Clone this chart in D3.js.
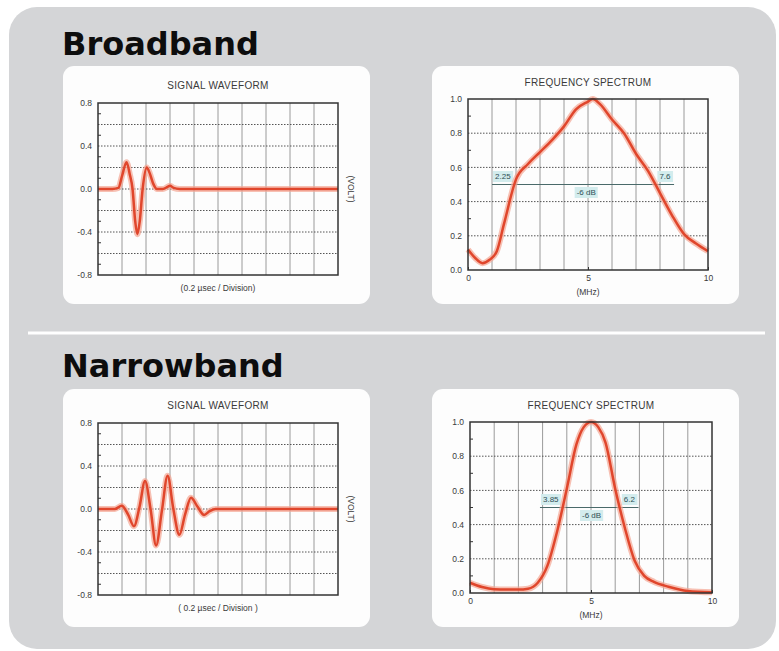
<!DOCTYPE html>
<html>
<head>
<meta charset="utf-8">
<script src="https://cdn.jsdelivr.net/npm/d3@7"></script>
<style>
  html, body { margin: 0; padding: 0; background: #ffffff; }
  svg { display: block; }
  text { font-family: "Liberation Sans", Arial, sans-serif; }
</style>
</head>
<body>
<svg id="chart" width="779" height="651"></svg>
<script>
// ---------------- DATA ----------------
const sectionTitles = ["Broadband", "Narrowband"];
const waveTitle = "SIGNAL WAVEFORM";
const specTitle = "FREQUENCY SPECTRUM";
const waveXLabels = ["(0.2 µsec / Division)", "( 0.2 µsec / Division )"];
const waveYLabel = "(VOLT)";
const specXLabel = "(MHz)";

// waveform time axis in divisions (0.2 µs each)
const bbWaveT = [0, 0.6, 0.85, 1.0, 1.19, 1.32, 1.44, 1.55, 1.64, 1.74, 1.86, 2.03, 2.15, 2.3, 2.45, 2.7, 2.9, 3.0, 3.15, 3.4, 10];
const bbWaveV = [0, 0, 0.01, 0.12, 0.25, 0.14, 0, -0.3, -0.42, -0.3, 0, 0.2, 0.15, 0.05, 0, 0, 0.02, 0.03, 0.01, 0, 0];

const nbWaveT = [0, 0.7, 0.99, 1.25, 1.5, 1.73, 1.96, 2.19, 2.42, 2.66, 2.9, 3.14, 3.39, 3.63, 3.875, 4.15, 4.42, 4.65, 4.9, 10];
const nbWaveV = [0, 0, 0.03, -0.05, -0.16, 0.02, 0.26, 0.0, -0.34, -0.02, 0.31, 0.0, -0.24, -0.05, 0.105, 0.02, -0.055, -0.02, 0, 0];

// spectra: frequency (MHz) and normalized amplitude
const bbSpecF = [0, 0.3, 0.6, 0.9, 1.2, 1.5, 2.0, 2.5, 3.0, 3.5, 4.0, 4.5, 5.0, 5.2, 5.5, 6.0, 6.5, 7.0, 7.5, 8.0, 8.5, 9.0, 9.5, 10];
const bbSpecA = [0.12, 0.07, 0.04, 0.06, 0.11, 0.27, 0.53, 0.62, 0.69, 0.76, 0.84, 0.94, 0.985, 1.0, 0.97, 0.88, 0.80, 0.68, 0.58, 0.45, 0.32, 0.21, 0.155, 0.11];

const nbSpecF = [0, 0.5, 1.0, 1.5, 2.0, 2.4, 2.8, 3.2, 3.6, 4.0, 4.4, 4.7, 5.0, 5.3, 5.6, 6.0, 6.4, 6.8, 7.2, 7.6, 8.2, 9.0, 10];
const nbSpecA = [0.06, 0.035, 0.022, 0.02, 0.02, 0.025, 0.06, 0.16, 0.36, 0.61, 0.87, 0.97, 1.0, 0.97, 0.88, 0.61, 0.38, 0.19, 0.1, 0.065, 0.037, 0.012, 0.004];

// -6 dB markers
const bbMarkers = [2.25, 7.6];
const nbMarkers = [3.85, 6.2];
const dbLabel = "-6 dB";
const dbLevel = 0.5;

// tick labels
const waveYTicks = [0.8, 0.4, 0.0, -0.4, -0.8];
const specYTicks = [0.0, 0.2, 0.4, 0.6, 0.8, 1.0];
const specXTicks = [0, 5, 10];

// ---------------- DRAWING ----------------
const svg = d3.select("#chart");

// outer grey panel
svg.append("rect").attr("x", 9).attr("y", 7).attr("width", 767).attr("height", 642)
  .attr("rx", 28).attr("fill", "#d4d5d7");

// separator
svg.append("line").attr("x1", 28).attr("x2", 765).attr("y1", 333).attr("y2", 333)
  .attr("stroke", "#ffffff").attr("stroke-width", 3);

// section titles
[[62, 55], [62, 377]].forEach((p, i) => {
  svg.append("text").attr("x", p[0]).attr("y", p[1])
    .style("font-family", "'DejaVu Sans', Verdana, sans-serif")
    .attr("font-weight", "bold").attr("font-size", 32).attr("fill", "#0d0d0d")
    .text(sectionTitles[i]);
});

const fmt1 = v => (v < 0 ? "-" : "") + Math.abs(v).toFixed(1);
const gridV = "#9a9a9a", gridH = "#555555", frameC = "#333333", textC = "#3a3a3a";

function panel(x, y, w, h) {
  svg.append("rect").attr("x", x).attr("y", y).attr("width", w).attr("height", h)
    .attr("rx", 11).attr("fill", "#fdfdfd");
}

function curve(g, xs, ys, xS, yS) {
  const pts = xs.map((d, i) => [d, ys[i]]);
  const line = d3.line().x(d => xS(d[0])).y(d => yS(d[1])).curve(d3.curveMonotoneX);
  g.append("path").attr("d", line(pts)).attr("fill", "none")
    .attr("stroke", "#f4a593").attr("stroke-width", 6).attr("stroke-opacity", 0.7)
    .attr("stroke-linejoin", "round");
  g.append("path").attr("d", line(pts)).attr("fill", "none")
    .attr("stroke", "#e0462c").attr("stroke-width", 2.5).attr("stroke-linejoin", "round");
}

function frameAndGrid(g, xS, yS, xGrid, yGrid, yMinor) {
  const [x0, x1] = xS.range(), [y0, y1] = yS.range();
  g.selectAll(".vg").data(xGrid).join("line")
    .attr("x1", d => xS(d)).attr("x2", d => xS(d)).attr("y1", y1).attr("y2", y0)
    .attr("stroke", gridV).attr("stroke-width", 1);
  g.selectAll(".hg").data(yGrid).join("line")
    .attr("x1", x0).attr("x2", x1).attr("y1", d => yS(d)).attr("y2", d => yS(d))
    .attr("stroke", gridH).attr("stroke-width", 1).attr("stroke-dasharray", "1.5,1.5");
  g.selectAll(".mt").data(yMinor).join("line")
    .attr("x1", x0).attr("x2", x0 + 3).attr("y1", d => yS(d)).attr("y2", d => yS(d))
    .attr("stroke", frameC).attr("stroke-width", 1);
}

function frame(g, xS, yS) {
  const [x0, x1] = xS.range(), [y0, y1] = yS.range();
  g.append("rect").attr("x", x0).attr("y", y1).attr("width", x1 - x0).attr("height", y0 - y1)
    .attr("fill", "none").attr("stroke", frameC).attr("stroke-width", 1.5);
}

function styleTicks(sel) {
  sel.select(".domain").remove();
  sel.selectAll("text").attr("font-size", 8.5).attr("fill", textC)
    .style("font-family", "'Liberation Sans', Arial, sans-serif");
}

function drawWave(box, plot, ts, vs, xLabel) {
  panel(box.x, box.y, box.w, box.h);
  const g = svg.append("g");
  const xS = d3.scaleLinear().domain([0, 10]).range([plot.x0, plot.x1]);
  const yS = d3.scaleLinear().domain([-0.8, 0.8]).range([plot.y1, plot.y0]);
  frameAndGrid(g, xS, yS, d3.range(1, 10), d3.range(-6, 7, 2).map(d => d / 10),
    d3.range(-7, 8, 2).map(d => d / 10));
  curve(g, ts, vs, xS, yS);
  frame(g, xS, yS);
  const ax = d3.axisLeft(yS).tickValues(waveYTicks).tickSize(0).tickPadding(6).tickFormat(fmt1);
  styleTicks(g.append("g").attr("transform", `translate(${plot.x0},0)`).call(ax));
  const cx = (plot.x0 + plot.x1) / 2;
  g.append("text").attr("x", cx).attr("y", plot.y0 - 14).attr("text-anchor", "middle")
    .attr("font-size", 10).attr("fill", textC).attr("letter-spacing", 0.3).text(waveTitle);
  g.append("text").attr("x", cx).attr("y", plot.y1 + 16).attr("text-anchor", "middle")
    .attr("font-size", 8.5).attr("fill", textC).text(xLabel);
  const ym = yS(0);
  g.append("text").attr("transform", `translate(${plot.x1 + 10},${ym}) rotate(90)`)
    .attr("text-anchor", "middle").attr("font-size", 8.5).attr("fill", textC).text(waveYLabel);
}

function crossing(fs, as, level, fromLeft) {
  const n = fs.length;
  if (fromLeft) {
    for (let i = 0; i < n - 1; i++) {
      if (as[i] < level && as[i + 1] >= level)
        return fs[i] + (level - as[i]) / (as[i + 1] - as[i]) * (fs[i + 1] - fs[i]);
    }
  } else {
    for (let i = n - 1; i > 0; i--) {
      if (as[i] < level && as[i - 1] >= level)
        return fs[i] - (level - as[i]) / (as[i - 1] - as[i]) * (fs[i] - fs[i - 1]);
    }
  }
  return null;
}

function tag(g, x, y, txt, anchor) {
  const t = g.append("text").attr("x", x).attr("y", y).attr("text-anchor", anchor)
    .attr("dominant-baseline", "central").attr("font-size", 8).attr("fill", "#2f4f55").text(txt);
  const bb = t.node().getBBox();
  g.insert("rect", () => t.node()).attr("x", bb.x - 2).attr("y", bb.y - 1)
    .attr("width", bb.width + 4).attr("height", bb.height + 2).attr("fill", "#d3eced");
  return bb;
}

function drawSpec(box, plot, fs, as, markers) {
  panel(box.x, box.y, box.w, box.h);
  const g = svg.append("g");
  const xS = d3.scaleLinear().domain([0, 10]).range([plot.x0, plot.x1]);
  const yS = d3.scaleLinear().domain([0, 1]).range([plot.y1, plot.y0]);
  frameAndGrid(g, xS, yS, d3.range(1, 10), [0.2, 0.4, 0.6, 0.8],
    [0.1, 0.3, 0.5, 0.7, 0.9]);

  // -6 dB annotation
  const lo = crossing(fs, as, dbLevel, true), hi = crossing(fs, as, dbLevel, false);
  const yl = yS(dbLevel);
  const ann = g.append("g");
  const bL = tag(ann, xS(lo) - 4, yl - 8, markers[0].toString(), "end");
  const bR = tag(ann, xS(hi) + 4, yl - 8, markers[1].toString(), "start");
  ann.insert("line", ":first-child").attr("x1", bL.x - 3).attr("x2", bR.x + bR.width + 3)
    .attr("y1", yl).attr("y2", yl).attr("stroke", "#4a6a6a").attr("stroke-width", 1.1);
  tag(ann, xS((markers[0] + markers[1]) / 2), yl + 8, dbLabel, "middle");

  curve(g, fs, as, xS, yS);
  frame(g, xS, yS);

  const ay = d3.axisLeft(yS).tickValues(specYTicks).tickSize(0).tickPadding(6).tickFormat(fmt1);
  styleTicks(g.append("g").attr("transform", `translate(${plot.x0},0)`).call(ay));
  const axx = d3.axisBottom(xS).tickValues(specXTicks).tickSize(3).tickPadding(2).tickFormat(d3.format("d"));
  const agx = g.append("g").attr("transform", `translate(0,${plot.y1})`).call(axx);
  styleTicks(agx);
  agx.selectAll("line").attr("stroke", frameC).attr("y2", -3);
  const cx = (plot.x0 + plot.x1) / 2;
  g.append("text").attr("x", cx).attr("y", plot.y0 - 13).attr("text-anchor", "middle")
    .attr("font-size", 10).attr("fill", textC).attr("letter-spacing", 0.3).text(specTitle);
  g.append("text").attr("x", cx).attr("y", plot.y1 + 25).attr("text-anchor", "middle")
    .attr("font-size", 8.5).attr("fill", textC).text(specXLabel);
}

drawWave({x: 63, y: 66, w: 307, h: 238}, {x0: 98, x1: 338, y0: 103, y1: 275}, bbWaveT, bbWaveV, waveXLabels[0]);
drawSpec({x: 432, y: 66, w: 307, h: 238}, {x0: 468, x1: 708, y0: 99, y1: 270}, bbSpecF, bbSpecA, bbMarkers);
drawWave({x: 63, y: 389, w: 307, h: 238}, {x0: 98, x1: 338, y0: 423, y1: 595}, nbWaveT, nbWaveV, waveXLabels[1]);
drawSpec({x: 432, y: 389, w: 307, h: 238}, {x0: 470, x1: 712, y0: 422, y1: 593}, nbSpecF, nbSpecA, nbMarkers);
</script>
</body>
</html>
